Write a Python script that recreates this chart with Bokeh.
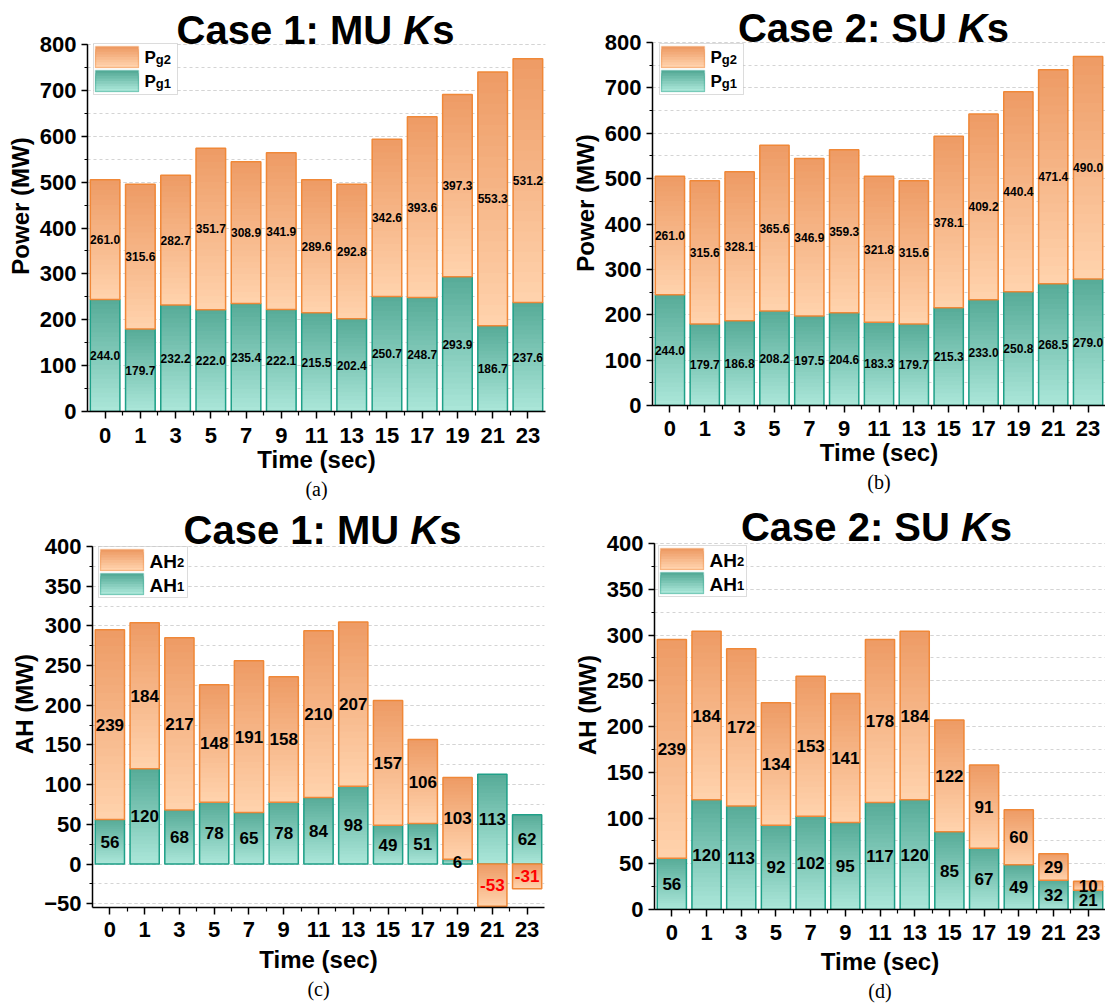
import numpy as np
from bokeh.plotting import figure
from bokeh.models import (Range1d, FixedTicker, SingleIntervalTicker, Label, BoxAnnotation, Title)
from bokeh.layouts import row, column
from bokeh.embed import file_html
from bokeh.resources import INLINE
from bokeh.core.properties import value

# ---------------- data ----------------
times = ["0", "1", "3", "5", "7", "9", "11", "13", "15", "17", "19", "21", "23"]
pg1_case1 = [244.0, 179.7, 232.2, 222.0, 235.4, 222.1, 215.5, 202.4, 250.7, 248.7, 293.9, 186.7, 237.6]
pg2_case1 = [261.0, 315.6, 282.7, 351.7, 308.9, 341.9, 289.6, 292.8, 342.6, 393.6, 397.3, 553.3, 531.2]
pg1_case2 = [244.0, 179.7, 186.8, 208.2, 197.5, 204.6, 183.3, 179.7, 215.3, 233.0, 250.8, 268.5, 279.0]
pg2_case2 = [261.0, 315.6, 328.1, 365.6, 346.9, 359.3, 321.8, 315.6, 378.1, 409.2, 440.4, 471.4, 490.0]
ah1_case1 = [56, 120, 68, 78, 65, 78, 84, 98, 49, 51, 6, 113, 62]
ah2_case1 = [239, 184, 217, 148, 191, 158, 210, 207, 157, 106, 103, -53, -31]
ah1_case2 = [56, 120, 113, 92, 102, 95, 117, 120, 85, 67, 49, 32, 21]
ah2_case2 = [239, 184, 172, 134, 153, 141, 178, 184, 122, 91, 60, 29, 10]

# ---------------- style ----------------
FONT = "Liberation Sans"
ORANGE_DARK = (238, 156, 102)
ORANGE_LIGHT = (255, 210, 172)
ORANGE_EDGE = "#f08838"
TEAL_DARK = (88, 172, 153)
TEAL_LIGHT = (170, 230, 216)
TEAL_EDGE = "#1fa088"
BAR_W = 0.84
NSTEP = 24

ARIAL_BOLD = {'C': 722, 'a': 556, 's': 556, 'e': 556, ' ': 278, '1': 556, '2': 556,
              ':': 333, 'M': 833, 'U': 722, 'S': 667, 'K': 722}


def tw(s, size):
    return sum(ARIAL_BOLD[c] for c in s) * size / 1000.0


def mix(c1, c2, t):
    return "#%02x%02x%02x" % tuple(int(round(a + (b - a) * t)) for a, b in zip(c1, c2))


def gradient_bars(p, x, lo, hi, dark, light, edge):
    xs, bots, tops, cols = [], [], [], []
    for k in range(NSTEP):
        f = (NSTEP - k) / NSTEP
        c = mix(dark, light, k / (NSTEP - 1))
        for xi, l, h in zip(x, lo, hi):
            xs.append(xi)
            bots.append(l)
            tops.append(l + (h - l) * f)
            cols.append(c)
    p.vbar(x=xs, bottom=bots, top=tops, width=BAR_W, fill_color=cols, line_color=None)
    p.vbar(x=list(x), bottom=list(lo), top=list(hi), width=BAR_W, fill_alpha=0,
           line_color=edge, line_width=1.5)


def make_panel(W, H, L, R, T, B, yrange, major, s1, s2, decimals, fsize,
               case_txt, title_cx, title_base, leg_xy, leg_w, leg_names,
               caption, cap_off, ylabel, xls, xas):
    y0, y1 = yrange
    fb = H - B  # frame bottom (canvas-local, from top)
    ytop = y0 + (y1 - y0) * fb / (fb - T)
    p = figure(width=W, height=H, x_range=Range1d(-0.5, 12.5), y_range=Range1d(y0, ytop),
               output_backend="svg", toolbar_location=None,
               min_border_left=L, min_border_right=R, min_border_top=0, min_border_bottom=B,
               background_fill_color="white", border_fill_color="white")
    p.outline_line_color = None

    def sx(X):
        return X - L

    def sy(Y):
        return fb - Y

    x = np.arange(len(times))
    v1 = np.array(s1, dtype=float)
    v2 = np.array(s2, dtype=float)
    lo1 = np.zeros_like(v1)
    hi1 = v1
    lo2 = np.where(v2 < 0, v2, v1)
    hi2 = np.where(v2 < 0, 0.0, v1 + v2)

    gradient_bars(p, x, lo1, hi1, TEAL_DARK, TEAL_LIGHT, TEAL_EDGE)
    gradient_bars(p, x, lo2, hi2, ORANGE_DARK, ORANGE_LIGHT, ORANGE_EDGE)

    fmt = "{:.%df}" % decimals
    for lo, hi, vals in ((lo1, hi1, v1), (lo2, hi2, v2)):
        p.text(x=list(x), y=list((lo + hi) / 2.0), text=[fmt.format(v) for v in vals],
               text_color=["#ff0000" if v < 0 else "black" for v in vals],
               text_font=value(FONT), text_font_style="bold", text_font_size=fsize,
               text_align="center", text_baseline="middle")

    # axes
    p.xgrid.visible = False
    p.ygrid.grid_line_color = "#d4d4d4"
    p.ygrid.grid_line_dash = "3 3"
    p.ygrid.minor_grid_line_color = "#d4d4d4"
    p.ygrid.minor_grid_line_dash = "3 3"
    p.ygrid.bounds = (y0, y1)

    p.xaxis.ticker = FixedTicker(ticks=list(range(len(times))),
                                 minor_ticks=[i + 0.5 for i in range(len(times) - 1)])
    p.xaxis.major_label_overrides = {i: t for i, t in enumerate(times)}
    p.yaxis.ticker = SingleIntervalTicker(interval=major, num_minor_ticks=2)
    p.yaxis.bounds = (y0, y1)
    for ax in (p.xaxis, p.yaxis):
        ax.axis_line_color = "black"
        ax.axis_line_width = 1.5
        ax.major_tick_line_color = "black"
        ax.major_tick_line_width = 1.5
        ax.minor_tick_line_color = "black"
        ax.minor_tick_line_width = 1.2
        ax.major_tick_in = 0
        ax.minor_tick_in = 0
        ax.major_label_text_font = FONT
        ax.major_label_text_font_style = "bold"
        ax.major_label_text_font_size = "22px"
        ax.major_label_text_color = "black"
        ax.axis_label_text_font = FONT
        ax.axis_label_text_font_style = "bold"
        ax.axis_label_text_font_size = "24px"
        ax.axis_label_text_color = "black"
    p.xaxis.major_tick_out = 7
    p.xaxis.minor_tick_out = 4
    p.yaxis.major_tick_out = 6
    p.yaxis.minor_tick_out = 3
    p.xaxis.major_label_standoff = xls
    p.xaxis.axis_label_standoff = xas
    p.yaxis.major_label_standoff = 5
    p.yaxis.axis_label_standoff = 3
    p.xaxis.axis_label = "Time (sec)"
    p.yaxis.axis_label = ylabel

    # caption below the x axis
    p.add_layout(Title(text=caption, align="center", offset=cap_off, standoff=0,
                       text_font="Liberation Serif", text_font_style="normal",
                       text_font_size="20px", text_color="black"), "below")

    # title with italic K (inside the frame's upper, empty part)
    parts = [(case_txt, "bold"), ("K", "bold italic"), ("s", "bold")]
    tsize = 40
    total = sum(tw(t, tsize) for t, _ in parts)
    cx = title_cx - total / 2.0
    for t, st in parts:
        p.add_layout(Label(x=sx(cx), y=sy(title_base - 0.3 * tsize), x_units="screen",
                           y_units="screen", text=t, text_font=FONT, text_font_style=st,
                           text_font_size="%dpx" % tsize, text_color="black",
                           text_align="left", text_baseline="alphabetic"))
        cx += tw(t, tsize)

    # legend (manual, with small subscript part)
    X0, Y0 = leg_xy
    lh = 51
    p.add_layout(BoxAnnotation(left=sx(X0), right=sx(X0 + leg_w), top=sy(Y0), bottom=sy(Y0 + lh),
                               left_units="screen", right_units="screen",
                               top_units="screen", bottom_units="screen",
                               fill_color="white", fill_alpha=1.0,
                               line_color="#8c8c8c", line_width=1, level="overlay"))
    rows = [(Y0 + 3, Y0 + 24, ORANGE_DARK, ORANGE_LIGHT, ORANGE_EDGE, leg_names[0]),
            (Y0 + 27, Y0 + 48, TEAL_DARK, TEAL_LIGHT, TEAL_EDGE, leg_names[1])]
    for (ya, yb, dk, lt, ed, (big, small, bsz)) in rows:
        n = 8
        for k in range(n):
            f = (n - k) / n
            p.add_layout(BoxAnnotation(left=sx(X0 + 2), right=sx(X0 + 45),
                                       bottom=sy(yb), top=sy(yb - (yb - ya) * f),
                                       left_units="screen", right_units="screen",
                                       top_units="screen", bottom_units="screen",
                                       fill_color=mix(dk, lt, k / (n - 1)), fill_alpha=1.0,
                                       line_color=None, level="overlay"))
        p.add_layout(BoxAnnotation(left=sx(X0 + 2), right=sx(X0 + 45), bottom=sy(yb), top=sy(ya),
                                   left_units="screen", right_units="screen",
                                   top_units="screen", bottom_units="screen",
                                   fill_alpha=0, line_color=ed, line_width=1.5, level="overlay"))
        base = (ya + yb) / 2.0 + 0.358 * bsz - 0.3 * bsz
        tx = X0 + 51
        p.add_layout(Label(x=sx(tx), y=sy(base), x_units="screen", y_units="screen",
                           text=big, text_font=FONT, text_font_style="bold",
                           text_font_size="%dpx" % bsz, text_color="black",
                           text_align="left", text_baseline="alphabetic", level="overlay"))
        bw = sum({'P': 667, 'A': 722, 'H': 722}[c] for c in big) * bsz / 1000.0
        p.add_layout(Label(x=sx(tx + bw), y=sy(base + 0.3 * bsz - 0.3 * 13), x_units="screen",
                           y_units="screen", text=small, text_font=FONT, text_font_style="bold",
                           text_font_size="13px", text_color="black",
                           text_align="left", text_baseline="alphabetic", level="overlay"))
    return p


pa = make_panel(550, 500, 87, 5, 44, 89, (0, 800), 100, pg1_case1, pg2_case1, 1, "12px",
                "Case 1: MU ", 315, 41, (93, 43), 84,
                [("P", "g2", 17), ("P", "g1", 17)], "(a)", -8, "Power (MW)", 9, 0)
pb = make_panel(555, 500, 102, 0, 42, 95, (0, 800), 100, pg1_case2, pg2_case2, 1, "12px",
                "Case 2: SU ", 323, 39, (109, 43), 84,
                [("P", "g2", 17), ("P", "g1", 17)], "(b)", -8, "Power (MW)", 8, 0)
pc = make_panel(550, 505, 92, 6, 46, 98, (-54.7, 400), 50, ah1_case1, ah2_case1, 0, "17px",
                "Case 1: MU ", 322, 41, (98, 46), 89,
                [("AH", "2", 19), ("AH", "1", 19)], "(c)", 0, "AH (MW)", 7, 6)
pd = make_panel(555, 505, 104, 0, 43, 96, (0, 400), 50, ah1_case2, ah2_case2, 0, "17px",
                "Case 2: SU ", 326, 38, (108, 45), 88,
                [("AH", "2", 19), ("AH", "1", 19)], "(d)", 0, "AH (MW)", 8, 5)

# each figure wrapped on its own so the rows do not force common frame borders
layout = column(row(column(pa), column(pb)), row(column(pc), column(pd)))
open("out.html", "w").write(file_html(layout, INLINE))
